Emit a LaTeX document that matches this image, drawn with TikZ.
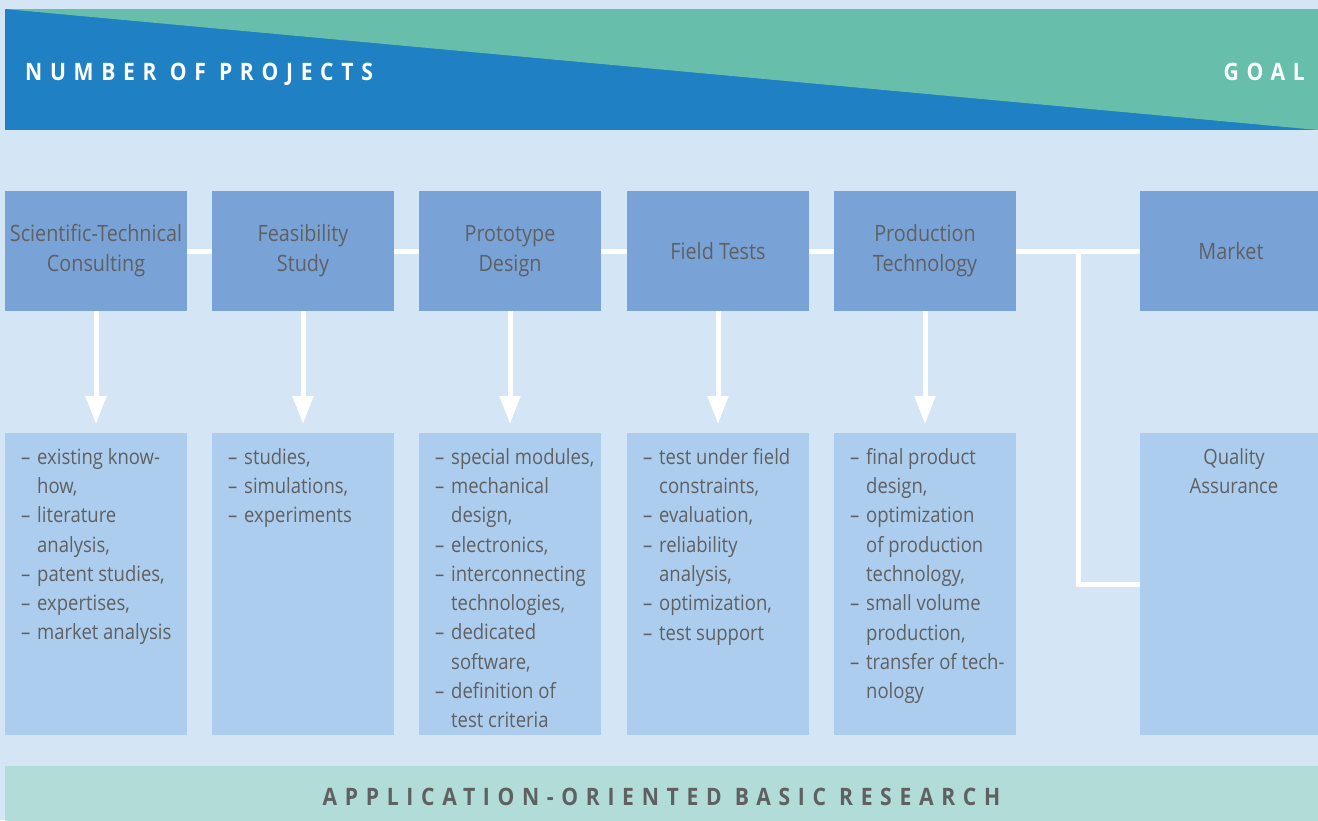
\documentclass[tikz,border=0pt]{standalone}
\usepackage{fontspec}
\setmainfont{Open Sans}[FakeStretch=0.88]
\newfontfamily\spacedfont{Open Sans}[FakeStretch=0.88,LetterSpace=32]
\usepackage{tikz}
\usetikzlibrary{positioning,arrows.meta}

\definecolor{pagebg}{HTML}{D4E5F6}
\definecolor{projblue}{HTML}{2080C4}
\definecolor{goalteal}{HTML}{67BFAB}
\definecolor{stageblue}{HTML}{79A3D6}
\definecolor{taskblue}{HTML}{ACCDED}
\definecolor{basegreen}{HTML}{B1DCD8}
\definecolor{textgrey}{HTML}{5F6062}

\newcommand{\itm}{\makebox[16pt][l]{–}}
\newcommand{\cnt}{\hspace*{16pt}}

\begin{document}
\begin{tikzpicture}[x=1pt, y=-1pt,
            stagenode/.style={rectangle, fill=stageblue, minimum width=182pt, minimum height=120pt, inner sep=0pt, outer sep=0pt, align=center, text=textgrey, font=\fontsize{22.5}{30}\selectfont},
            tasknode/.style={rectangle, fill=taskblue, minimum width=182pt, minimum height=302pt, inner sep=0pt, outer sep=0pt},
            listnode/.style={anchor=north west, inner sep=0pt, align=left, text=textgrey, font=\fontsize{21}{29.3}\selectfont},
            capsnode/.style={inner sep=0pt, font=\spacedfont\bfseries\fontsize{24}{24}\selectfont},
            flow/.style={draw=white, line width=5pt},
            downarrow/.style={flow, -{Triangle[width=20pt,length=28pt]}, shorten >=9pt},
        ]
        \fill[pagebg] (0,0) rectangle (1318,820);
        \useasboundingbox (0,0) rectangle (1318,820);
        \clip (0,0) rectangle (1318,820);
        % banner on top
        \fill[projblue] (5,9) rectangle (1318,130);
        \fill[goalteal] (5,9) -- (1318,9) -- (1318,130) -- cycle;
        \node[capsnode, anchor=base west, text=white] (count) at (25,80)  {NUMBER OF PROJECTS};
        \node[capsnode, anchor=base east, text=white] (goal)  at (1305,80) {GOAL};
        % stages
        \node[stagenode] (cons)  at (96,251)          {Scientific-Technical\\Consulting};
        \node[stagenode] (feas)  [right = 25pt of cons]  {Feasibility\\Study};
        \node[stagenode] (proto) [right = 25pt of feas]  {Prototype\\Design};
        \node[stagenode] (field) [right = 26pt of proto] {Field Tests};
        \node[stagenode] (prod)  [right = 25pt of field] {Production\\Technology};
        \node[stagenode] (mkt)   [right = 124pt of prod] {Market};
        % tasks
        \node[tasknode] (consT)  [below = 122pt of cons]  {};
        \node[tasknode] (feasT)  [below = 122pt of feas]  {};
        \node[tasknode] (protoT) [below = 122pt of proto] {};
        \node[tasknode] (fieldT) [below = 122pt of field] {};
        \node[tasknode] (prodT)  [below = 122pt of prod]  {};
        \node[tasknode] (qaT)    [below = 122pt of mkt]   {};
        \node[listnode] (consL)  at ([xshift=16pt,yshift=-15pt]consT.north west)  {\itm existing know-\\\cnt how,\\\itm literature\\\cnt analysis,\\\itm patent studies,\\\itm expertises,\\\itm market analysis};
        \node[listnode] (feasL)  at ([xshift=16pt,yshift=-15pt]feasT.north west)  {\itm studies,\\\itm simulations,\\\itm experiments};
        \node[listnode] (protoL) at ([xshift=16pt,yshift=-15pt]protoT.north west) {\itm special modules,\\\itm mechanical\\\cnt design,\\\itm electronics,\\\itm interconnecting\\\cnt technologies,\\\itm dedicated\\\cnt software,\\\itm definition of\\\cnt test criteria};
        \node[listnode] (fieldL) at ([xshift=16pt,yshift=-15pt]fieldT.north west) {\itm test under field\\\cnt constraints,\\\itm evaluation,\\\itm reliability\\\cnt analysis,\\\itm optimization,\\\itm test support};
        \node[listnode] (prodL)  at ([xshift=16pt,yshift=-15pt]prodT.north west)  {\itm final product\\\cnt design,\\\itm optimization\\\cnt of production\\\cnt technology,\\\itm small volume\\\cnt production,\\\itm transfer of tech-\\\cnt nology};
        \node[listnode, anchor=north, align=center] (qaL) at ([xshift=3pt,yshift=-15pt]qaT.north) {Quality\\Assurance};
        % connectors
        \draw[flow] (cons.east) -- (feas.west);
        \draw[flow] (feas.east) -- (proto.west);
        \draw[flow] (proto.east) -- (field.west);
        \draw[flow] (field.east) -- (prod.west);
        \draw[flow] (prod.east) -- coordinate[pos=.5] (split) (mkt.west);
        \draw[flow] (split) |- (qaT.west);
        \draw[downarrow] (cons.south) -- (consT.north);
        \draw[downarrow] (feas.south) -- (feasT.north);
        \draw[downarrow] (proto.south) -- (protoT.north);
        \draw[downarrow] (field.south) -- (fieldT.north);
        \draw[downarrow] (prod.south) -- (prodT.north);
        % basic research
        \node[capsnode, anchor=north, fill=basegreen, minimum width=1313pt, minimum height=62pt, text=textgrey] (basis) at (661.5,766) {APPLICATION-ORIENTED BASIC RESEARCH};
    \end{tikzpicture}
\end{document}
